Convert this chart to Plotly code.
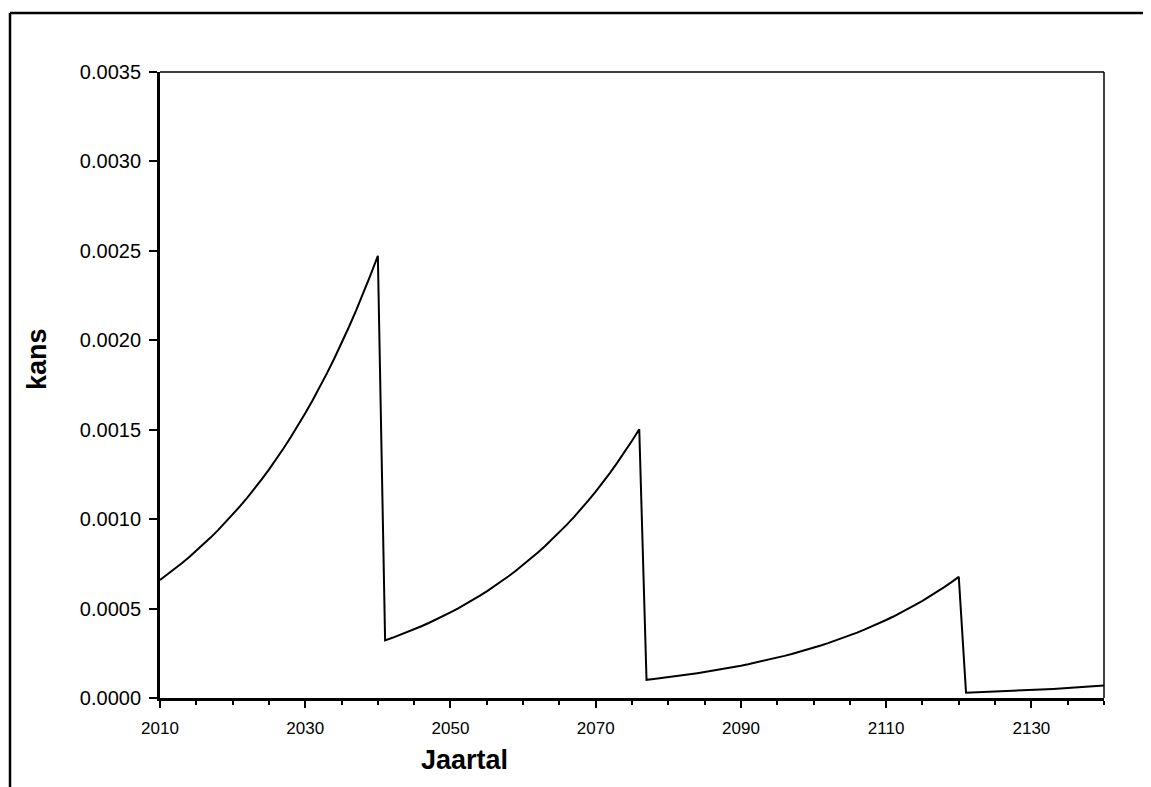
import plotly.graph_objects as go

years = list(range(2010, 2141))

kans = [
    # 2010-2040
    0.0006600, 0.0006897, 0.0007207, 0.0007532, 0.0007871, 0.0008225, 0.0008595, 0.0008982,
    0.0009386, 0.0009808, 0.0010250, 0.0010711, 0.0011193, 0.0011697, 0.0012223, 0.0012773,
    0.0013348, 0.0013949, 0.0014577, 0.0015233, 0.0015918, 0.0016634, 0.0017383, 0.0018165,
    0.0018983, 0.0019837, 0.0020730, 0.0021662, 0.0022637, 0.0023656, 0.0024720,
    # 2041-2076
    0.0003220, 0.0003365, 0.0003516, 0.0003675, 0.0003840, 0.0004013, 0.0004193, 0.0004382,
    0.0004579, 0.0004785, 0.0005001, 0.0005226, 0.0005461, 0.0005707, 0.0005963, 0.0006232,
    0.0006512, 0.0006805, 0.0007112, 0.0007432, 0.0007766, 0.0008116, 0.0008481, 0.0008862,
    0.0009261, 0.0009678, 0.0010114, 0.0010569, 0.0011044, 0.0011541, 0.0012061, 0.0012604,
    0.0013171, 0.0013764, 0.0014383, 0.0015030,
    # 2077-2120
    0.0001020, 0.0001066, 0.0001114, 0.0001164, 0.0001216, 0.0001271, 0.0001328, 0.0001388,
    0.0001451, 0.0001516, 0.0001584, 0.0001656, 0.0001730, 0.0001808, 0.0001889, 0.0001974,
    0.0002063, 0.0002156, 0.0002253, 0.0002354, 0.0002460, 0.0002571, 0.0002687, 0.0002808,
    0.0002934, 0.0003066, 0.0003204, 0.0003348, 0.0003499, 0.0003656, 0.0003821, 0.0003993,
    0.0004172, 0.0004360, 0.0004556, 0.0004761, 0.0004976, 0.0005200, 0.0005434, 0.0005678,
    0.0005934, 0.0006201, 0.0006480, 0.0006772,
    # 2121-2140
    0.0000300, 0.0000314, 0.0000328, 0.0000342, 0.0000358, 0.0000374, 0.0000391, 0.0000408,
    0.0000427, 0.0000446, 0.0000466, 0.0000487, 0.0000509, 0.0000532, 0.0000556, 0.0000581,
    0.0000607, 0.0000634, 0.0000663, 0.0000693,
]

y_ticks = [0.0, 0.0005, 0.0010, 0.0015, 0.0020, 0.0025, 0.0030, 0.0035]
x_ticks = [2010, 2030, 2050, 2070, 2090, 2110, 2130]

FONT = "Liberation Sans, Arial, sans-serif"

fig = go.Figure()
fig.add_trace(go.Scatter(
    x=years, y=kans, mode="lines",
    line=dict(color="black", width=2),
    showlegend=False, hoverinfo="skip",
))

OFF = 8  # page body margin
W, H = 1151 - OFF, 787 - OFF
L, T = 160 - OFF, 72 - OFF
pw, ph = 944, 626
R = W - L - pw
B = H - T - ph


def px(xp):
    # absolute window x -> paper fraction
    return (xp - OFF - L) / pw


def py(yp):
    # absolute window y -> paper fraction
    return (T + ph - (yp - OFF)) / ph


fig.update_layout(
    width=W, height=H,
    margin=dict(l=L, r=R, t=T, b=B, pad=0),
    paper_bgcolor="white", plot_bgcolor="white",
    font=dict(family=FONT, color="black"),
    xaxis=dict(
        range=[2010, 2140], tickmode="array", tickvals=x_ticks,
        ticks="outside", ticklen=7, tickwidth=2, tickcolor="black",
        minor=dict(dtick=5, tick0=2010, ticks="outside", ticklen=4, tickwidth=2, tickcolor="black", showgrid=False),
        showline=True, linewidth=3, linecolor="black",
        showgrid=False, zeroline=False,
        tickfont=dict(size=17, family=FONT, color="black"),
        ticklabelstandoff=6,
    ),
    yaxis=dict(
        range=[0, 0.0035], tickmode="array", tickvals=y_ticks,
        tickformat=".4f",
        ticks="outside", ticklen=8, tickwidth=2, tickcolor="black",
        showline=True, linewidth=3, linecolor="black",
        showgrid=False, zeroline=False,
        tickfont=dict(size=20, family=FONT, color="black"),
        ticklabelstandoff=4,
    ),
    shapes=[
        # thin top/right frame of plot area
        dict(type="line", xref="paper", yref="paper", x0=0, x1=1, y0=1, y1=1,
             line=dict(color="black", width=1.5), layer="below"),
        dict(type="line", xref="paper", yref="paper", x0=1, x1=1, y0=0, y1=1,
             line=dict(color="black", width=1.5), layer="below"),
        # outer chart border (left and top, extending beyond picture)
        dict(type="line", xref="paper", yref="paper", x0=px(10), x1=px(10), y0=py(800), y1=py(13),
             line=dict(color="black", width=2.5)),
        dict(type="line", xref="paper", yref="paper", x0=px(10), x1=px(1160), y0=py(13), y1=py(13),
             line=dict(color="black", width=2.5)),
    ],
    annotations=[
        dict(text="<b>Jaartal</b>", xref="paper", yref="paper", x=px(464), y=py(760),
             showarrow=False, xanchor="center", yanchor="middle",
             font=dict(size=27, family=FONT, color="black")),
        dict(text="<b>kans</b>", xref="paper", yref="paper", x=px(37), y=py(359),
             showarrow=False, xanchor="center", yanchor="middle", textangle=-90,
             font=dict(size=27, family=FONT, color="black")),
    ],
)

fig.write_html("out.html")
